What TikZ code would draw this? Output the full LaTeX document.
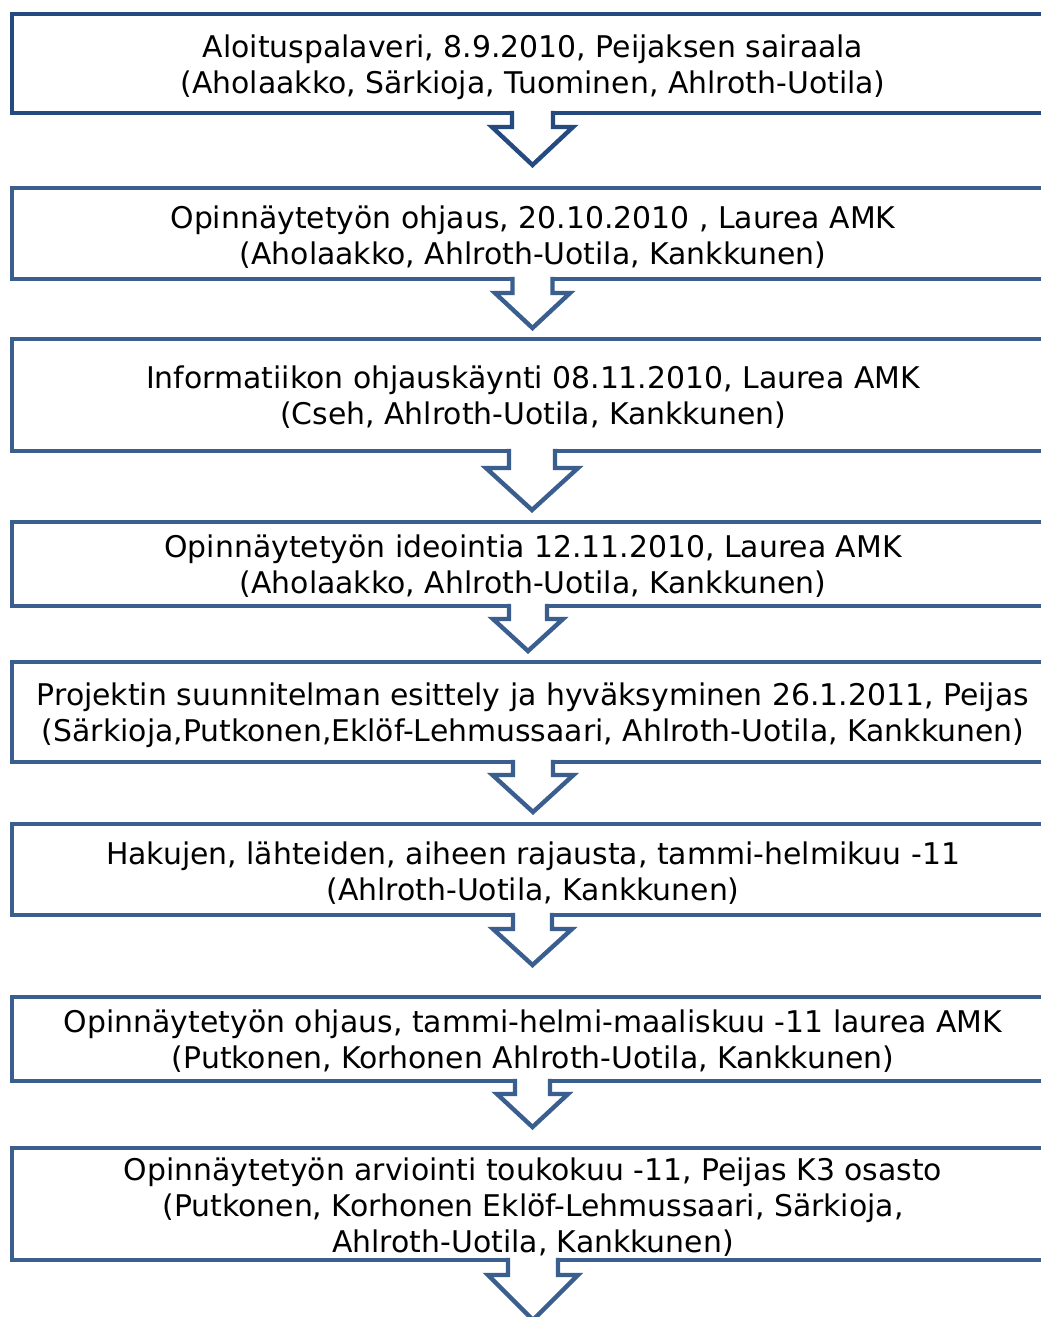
\documentclass[tikz,border=0pt]{standalone}
\usepackage{fontspec}
\setmainfont{DejaVu Sans}
\usetikzlibrary{calc}
\definecolor{darkb}{HTML}{254A7F}
\definecolor{lineb}{HTML}{3A5F8F}
\tikzset{
  stepbox/.style={draw=lineb, line width=3.3pt, rectangle, inner sep=0pt, outer sep=0pt,
    minimum width=1042*0.75pt},
  steptext/.style={inner sep=0pt, align=center, font=\fontsize{22.4}{27}\selectfont, text=black},
  arrline/.style={line width=3.3pt, line join=miter},
}
% #1 node, #2 x centre, #3 half shaft, #4 half head, #5 step depth, #6 tip depth, #7 colour
\newcommand\blockarr[7]{%
  \coordinate (T) at ($(#1.south)+(#2-533,0)$);
  \fill[white] ($(T)+(-#3,-4)$) -- ($(T)+(-#3,#5)$) -- ($(T)+(-#4,#5)$) -- ($(T)+(0,#6)$)
     -- ($(T)+(#4,#5)$) -- ($(T)+(#3,#5)$) -- ($(T)+(#3,-4)$) -- cycle;
  \draw[arrline, draw=#7] ($(T)+(-#3,-2.2)$) -- ($(T)+(-#3,#5)$) -- ($(T)+(-#4,#5)$) -- ($(T)+(0,#6)$)
     -- ($(T)+(#4,#5)$) -- ($(T)+(#3,#5)$) -- ($(T)+(#3,-2.2)$);
}
\begin{document}
\begin{tikzpicture}[x=0.75pt,y=-0.75pt]
\useasboundingbox (0,0) rectangle (1041,1317);
\clip (0,0) rectangle (1041,1317);
\fill[white] (0,0) rectangle (1041,1317);

\node[stepbox, draw=darkb, minimum height=99*0.75pt] (b1) at (533,63.5) {};
\node[stepbox, minimum height=91*0.75pt] (b2) at (533,233.5) {};
\node[stepbox, minimum height=112*0.75pt] (b3) at (533,395) {};
\node[stepbox, minimum height=84*0.75pt] (b4) at (533,564) {};
\node[stepbox, minimum height=100*0.75pt] (b5) at (533,712) {};
\node[stepbox, minimum height=91*0.75pt] (b6) at (533,869.5) {};
\node[stepbox, minimum height=84*0.75pt] (b7) at (533,1039) {};
\node[stepbox, minimum height=112*0.75pt] (b8) at (533,1204) {};

\node[steptext] (t1) at ($(b1.center)+(0,4)$)
  {Aloituspalaveri, 8.9.2010, Peijaksen sairaala\\(Aholaakko, Särkioja, Tuominen, Ahlroth-Uotila)};
\node[steptext] (t2) at ($(b2.center)+(0,3.5)$)
  {Opinnäytetyön ohjaus, 20.10.2010 , Laurea AMK\\(Aholaakko, Ahlroth-Uotila, Kankkunen)};
\node[steptext] (t3) at ($(b3.center)+(0,2.5)$)
  {Informatiikon ohjauskäynti 08.11.2010, Laurea AMK\\(Cseh, Ahlroth-Uotila, Kankkunen)};
\node[steptext] (t4) at ($(b4.center)+(0,2.5)$)
  {Opinnäytetyön ideointia 12.11.2010, Laurea AMK\\(Aholaakko, Ahlroth-Uotila, Kankkunen)};
\node[steptext] (t5) at ($(b5.center)+(0,3)$)
  {Projektin suunnitelman esittely ja hyväksyminen 26.1.2011, Peijas\\(Särkioja,Putkonen,Eklöf-Lehmussaari, Ahlroth-Uotila, Kankkunen)};
\node[steptext] (t6) at ($(b6.center)+(0,3.5)$)
  {Hakujen, lähteiden, aiheen rajausta, tammi-helmikuu -11\\(Ahlroth-Uotila, Kankkunen)};
\node[steptext] (t7) at ($(b7.center)+(0,2.5)$)
  {Opinnäytetyön ohjaus, tammi-helmi-maaliskuu -11 laurea AMK\\(Putkonen, Korhonen Ahlroth-Uotila, Kankkunen)};
\node[steptext] (t8) at ($(b8.center)+(0,3)$)
  {Opinnäytetyön arviointi toukokuu -11, Peijas K3 osasto\\(Putkonen, Korhonen Eklöf-Lehmussaari, Särkioja,\\Ahlroth-Uotila, Kankkunen)};

\blockarr{b1}{532.5}{20.5}{40.5}{14}{52}{darkb}
\blockarr{b2}{532.5}{20}{37.5}{14}{49}{lineb}
\blockarr{b3}{532}{23}{46}{17}{59}{lineb}
\blockarr{b4}{528}{19}{35}{13}{45}{lineb}
\blockarr{b5}{533}{20}{40.5}{13}{50}{lineb}
\blockarr{b6}{532.5}{19.5}{39.5}{14}{50}{lineb}
\blockarr{b7}{532.5}{17.5}{35.5}{13}{46}{lineb}
\blockarr{b8}{533}{25}{45}{15}{60}{lineb}
\end{tikzpicture}
\end{document}
